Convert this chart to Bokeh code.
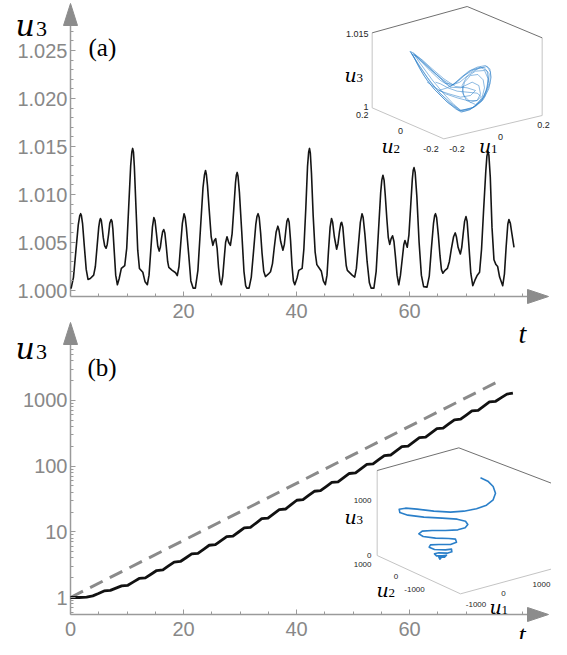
from bokeh.plotting import figure
from bokeh.models import (Range1d, LinearScale, LogScale, FixedTicker, NumeralTickFormatter, Label,
                          LinearAxis, LogAxis)
from bokeh.embed import file_html
from bokeh.resources import INLINE

# ---------------- data ----------------
# panel (a): u3(t), chaotic regime, pairs (t, u3)
a_samples = [
    (0.1, 1.0002), (0.525, 1.00137), (0.95, 1.0041), (1.375, 1.00683), (1.63, 1.00777), (1.8, 1.0080),
    (1.93, 1.0078), (2.13, 1.0070), (2.45, 1.0046), (2.78, 1.0022), (3.1, 1.00115), (3.5, 1.00125),
    (4.1, 1.0016), (4.4, 1.0025), (4.7, 1.00455), (5.0, 1.0066), (5.18, 1.0073), (5.3, 1.0075),
    (5.45, 1.0073), (5.6, 1.0066), (5.8, 1.0055), (6.05, 1.00465), (6.3, 1.0044), (6.5, 1.0048),
    (6.75, 1.0059), (6.95, 1.0070), (7.2, 1.0074), (7.35, 1.0072), (7.5, 1.0064), (7.75, 1.0040),
    (8.0, 1.0016), (8.3, 1.0006), (8.6, 1.0012), (9.0, 1.0023), (9.6, 1.0026), (9.95, 1.0044),
    (10.3, 1.0087), (10.65, 1.0130), (10.85, 1.0144), (11.0, 1.0148), (11.15, 1.0144), (11.3, 1.0129),
    (11.6, 1.0085), (11.9, 1.0042), (12.2, 1.0023), (12.8, 1.0019), (13.2, 1.0009), (13.6, 1.0006),
    (13.9, 1.0016), (14.2, 1.0041), (14.5, 1.0066), (14.75, 1.0076), (14.95, 1.0073), (15.2, 1.0060),
    (15.45, 1.0046), (15.7, 1.0041), (15.9, 1.0045), (16.1, 1.0054), (16.3, 1.0061), (16.5, 1.00635),
    (16.7, 1.0060), (16.95, 1.0046), (17.2, 1.0030), (17.4, 1.0024), (18.0, 1.0021), (18.6, 1.00185),
    (18.9, 1.00155), (19.2, 1.0025), (19.5, 1.0048), (19.8, 1.0070), (20.1, 1.0080), (20.3, 1.0076),
    (20.5, 1.0066), (20.9, 1.0039), (21.3, 1.0010), (21.7, 1.00025), (22.1, 1.00025), (22.55, 1.0021),
    (23.0, 1.0064), (23.45, 1.0107), (23.7, 1.0120), (23.9, 1.0125), (24.05, 1.0121), (24.25, 1.0109),
    (24.55, 1.0084), (24.9, 1.0056), (25.2, 1.0047), (25.45, 1.0052), (25.7, 1.0054), (25.95, 1.0044),
    (26.2, 1.0024), (26.45, 1.0010), (26.7, 1.0006), (26.95, 1.0015), (27.2, 1.0033), (27.45, 1.0050),
    (27.7, 1.0056), (28.0, 1.0050), (28.3, 1.0047), (28.6, 1.0059), (28.9, 1.0085), (29.2, 1.0112),
    (29.35, 1.0120), (29.5, 1.0123), (29.65, 1.0119), (29.9, 1.0102), (30.3, 1.0062), (30.7, 1.0020),
    (31.0, 1.0005), (31.2, 1.00025), (31.6, 1.00025), (32.0, 1.0014), (32.4, 1.0041), (32.8, 1.0069),
    (33.0, 1.0077), (33.2, 1.0080), (33.4, 1.0076), (33.65, 1.0060), (33.9, 1.0039), (34.2, 1.0020),
    (34.5, 1.00145), (35.0, 1.0017), (35.4, 1.00195), (35.75, 1.0028), (36.05, 1.0044), (36.4, 1.0061),
    (36.7, 1.0067), (36.9, 1.0063), (37.2, 1.0051), (37.6, 1.0042), (37.85, 1.0048), (38.1, 1.0062),
    (38.3, 1.0072), (38.5, 1.0075), (38.7, 1.0071), (38.95, 1.0052), (39.2, 1.0026), (39.45, 1.0010),
    (39.7, 1.0006), (40.1, 1.0013), (40.4, 1.0021), (41.0, 1.0023), (41.3, 1.0043), (41.65, 1.0086),
    (41.95, 1.0129), (42.15, 1.0144), (42.3, 1.0148), (42.45, 1.0143), (42.65, 1.0122), (42.95, 1.0078),
    (43.3, 1.0040), (43.6, 1.0027), (43.95, 1.0024), (44.4, 1.0020), (44.75, 1.0010), (45.1, 1.0006),
    (45.4, 1.0016), (45.65, 1.0040), (45.95, 1.0066), (46.2, 1.0075), (46.4, 1.0071), (46.7, 1.0056),
    (47.1, 1.0043), (47.35, 1.0049), (47.6, 1.0061), (47.85, 1.0070), (48.0, 1.0071), (48.2, 1.0066),
    (48.5, 1.0045), (48.8, 1.0026), (49.0, 1.0021), (49.85, 1.0016), (50.3, 1.0014), (50.6, 1.0023),
    (50.95, 1.0047), (51.3, 1.0071), (51.6, 1.0080), (51.8, 1.0076), (52.1, 1.0059), (52.5, 1.0030),
    (52.9, 1.0008), (53.2, 1.00025), (53.7, 1.00025), (54.1, 1.0020), (54.5, 1.0061), (54.9, 1.0102),
    (55.1, 1.0115), (55.3, 1.0120), (55.5, 1.0115), (55.7, 1.0100), (56.0, 1.0074), (56.25, 1.0055),
    (56.5, 1.0048), (56.75, 1.0054), (57.0, 1.0057), (57.25, 1.0051), (57.5, 1.0036), (57.8, 1.0016),
    (58.1, 1.0006), (58.4, 1.0016), (58.7, 1.0032), (59.0, 1.0048), (59.2, 1.0052), (59.6, 1.0045),
    (59.9, 1.0058), (60.2, 1.0087), (60.5, 1.0116), (60.65, 1.0125), (60.8, 1.0128), (61.0, 1.0123),
    (61.3, 1.0098), (61.7, 1.0050), (62.1, 1.0016), (62.5, 1.0004), (63.1, 1.00035), (63.5, 1.0015),
    (63.85, 1.0042), (64.25, 1.0070), (64.45, 1.0078), (64.6, 1.0080), (64.8, 1.0076), (65.1, 1.0058),
    (65.4, 1.0036), (65.65, 1.0022), (65.9, 1.0018), (66.3, 1.0021), (66.7, 1.0023), (67.05, 1.0030),
    (67.4, 1.0043), (67.8, 1.0056), (68.1, 1.0060), (68.3, 1.0056), (68.6, 1.0045), (69.0, 1.0038),
    (69.25, 1.0045), (69.5, 1.0059), (69.75, 1.0072), (70.0, 1.0077), (70.2, 1.0072), (70.5, 1.0048),
    (70.85, 1.0018), (71.2, 1.0005), (71.6, 1.0011), (72.0, 1.0016), (72.4, 1.0019), (72.75, 1.0043),
    (73.1, 1.0082), (73.5, 1.0124), (73.7, 1.0140), (73.9, 1.0145), (74.05, 1.0141), (74.3, 1.0118),
    (74.6, 1.0066), (74.95, 1.0032), (75.3, 1.0027), (75.6, 1.0025), (75.95, 1.0014), (76.5, 1.0005),
    (76.8, 1.0017), (77.1, 1.0045), (77.4, 1.0069), (77.6, 1.0074), (77.85, 1.0070), (78.1, 1.0060),
    (78.5, 1.0045),
]
t_a = [p[0] for p in a_samples]
u3_a = [p[1] for p in a_samples]

# panel (b): growing u3(t) (log axis) and the dashed reference line
t_b = [0, 1.5, 2.85, 3.95, 4.95, 5.95, 7.05, 8.05, 9.05, 10.15, 11.15, 12.15, 13.25, 14.25, 15.25,
       16.35, 17.35, 18.35, 19.45, 20.45, 21.45, 22.55, 23.55, 24.55, 25.65, 26.65, 27.65, 28.75,
       29.75, 30.75, 31.85, 32.85, 33.85, 34.95, 35.95, 36.95, 38.05, 39.05, 40.05, 41.15, 42.15,
       43.15, 44.25, 45.25, 46.25, 47.35, 48.35, 49.35, 50.45, 51.45, 52.45, 53.55, 54.55, 55.55,
       56.65, 57.65, 58.65, 59.75, 60.75, 61.75, 62.85, 63.85, 64.85, 65.95, 66.95, 67.95, 69.05,
       70.05, 71.05, 72.15, 73.15, 74.15, 75.25, 76.25, 77.25, 78.3]
u3_b = [1.0, 1.0, 1.01, 1.06, 1.15, 1.257, 1.283, 1.39, 1.505, 1.535, 1.73, 1.95, 1.99, 2.26, 2.574,
        2.626, 3.02, 3.465, 3.535, 4.03, 4.60, 4.70, 5.41, 6.24, 6.36, 7.32, 8.42, 8.59, 9.93, 11.48,
        11.72, 13.6, 15.84, 16.16, 18.8, 21.78, 22.22, 25.9, 30.2, 30.8, 35.7, 41.4, 42.2, 48.8, 56.4,
        57.6, 66.7, 77.2, 78.8, 91.4, 105.9, 108.1, 125, 144.5, 147.5, 171, 198, 202, 234, 271, 277,
        321, 371, 379, 438, 507, 517, 599, 693, 707, 820, 950, 970, 1100, 1247, 1290]
t_dash = [0, 75.5]
u3_dash = [1.0, 1900]

# tick values / labels
t_ticks_a = [20, 40, 60]
t_ticks_b = [0, 20, 40, 60]
t_minor = [5, 10, 15, 25, 30, 35, 45, 50, 55, 65, 70, 75, 80]
u3_ticks_a = [1.000, 1.005, 1.010, 1.015, 1.020, 1.025]
u3_minor_a = [1.001, 1.002, 1.003, 1.004, 1.006, 1.007, 1.008, 1.009, 1.011, 1.012, 1.013, 1.014,
              1.016, 1.017, 1.018, 1.019, 1.021, 1.022, 1.023, 1.024, 1.026, 1.027]
u3_ticks_b = [1, 10, 100, 1000]
u3_minor_b = [0.6, 0.7, 0.8, 0.9, 2, 3, 4, 5, 6, 7, 8, 9, 20, 30, 40, 50, 60, 70, 80, 90,
              200, 300, 400, 500, 600, 700, 800, 900, 2000, 3000, 4000, 5000, 6000]

# inset (a): projected 3-D attractor (projected units of the inset box)
box_a_top_x = [35, 320, 545]
box_a_top_y = [97, 18, 112]
box_a_rest_x = [545, 545, 250, 35, 35]
box_a_rest_y = [112, 345, 415, 322, 97]
attr_xs = [
    [150, 160, 178, 200, 225, 255, 285, 302, 320, 345, 368, 385, 392, 388, 375, 350, 325, 300, 278, 255, 230, 205, 180, 160, 150],
    [152, 165, 190, 220, 260, 295, 330, 360, 378, 383, 372, 345, 318, 305, 310, 330, 350, 360, 355, 335, 300, 268, 240, 210, 180, 158],
    [155, 175, 210, 240, 270, 300, 335, 365, 380, 386, 370, 340, 310, 290, 260, 235, 265, 300, 330, 345, 320, 285, 250, 215, 185, 163],
    [148, 170, 200, 235, 268, 300, 340, 372, 388, 390, 380, 355, 330, 298, 272, 248, 215, 185, 160],
    [158, 180, 215, 250, 280, 305, 328, 350, 365, 372, 368, 352, 330, 312, 305, 318, 345, 370, 385, 380, 360, 330, 300, 270, 240, 210, 182, 162],
    [200, 225, 255, 290, 320, 350, 362, 350, 320, 290, 262, 240, 225],
]
attr_ys = [
    [153, 170, 205, 240, 270, 300, 325, 335, 330, 318, 298, 265, 230, 205, 195, 200, 212, 232, 252, 248, 225, 200, 175, 158, 153],
    [156, 180, 225, 265, 305, 330, 325, 305, 270, 235, 210, 212, 230, 255, 285, 305, 300, 280, 255, 245, 262, 260, 232, 205, 178, 160],
    [160, 195, 245, 280, 310, 332, 322, 300, 260, 220, 200, 208, 225, 245, 262, 270, 280, 290, 285, 270, 262, 258, 235, 205, 178, 163],
    [152, 185, 230, 275, 305, 330, 320, 290, 250, 215, 198, 203, 218, 245, 255, 238, 212, 185, 162],
    [158, 190, 238, 280, 312, 333, 328, 312, 290, 262, 238, 222, 225, 245, 275, 300, 312, 290, 250, 212, 200, 210, 235, 258, 240, 212, 183, 162],
    [245, 262, 280, 292, 300, 300, 288, 278, 275, 272, 262, 250, 245],
]

# inset (b): projected growing spiral
box_b_top_x = [20, 265, 545]
box_b_top_y = [90, 22, 129]
box_b_rest_x = [545, 545, 270, 20, 20]
box_b_rest_y = [129, 385, 460, 345, 90]
spiral_x = [330, 352, 368, 375, 368, 348, 318, 280, 240, 190, 140, 105, 86, 88, 112, 160, 215, 260, 285,
            292, 284, 262, 225, 185, 155, 145, 158, 195, 235, 255, 258, 240, 205, 180, 176, 192, 225,
            243, 244, 230, 205, 192, 198, 215, 228, 222, 205, 208, 212]
spiral_y = [112, 122, 138, 158, 178, 194, 205, 212, 215, 212, 206, 203, 206, 216, 224, 230, 233, 236, 242,
            252, 262, 268, 270, 270, 272, 280, 288, 293, 294, 296, 305, 312, 312, 313, 320, 327, 328,
            326, 334, 338, 337, 340, 346, 346, 344, 350, 350, 356, 352]

# ---------------- geometry / styles ----------------
PXT = 5.65          # px per unit of t
PXU = 9600.0        # px per unit of u3 (panel a)
PXD = 65.7          # px per decade (panel b)
AX = "#8c8c8c"
AXL = "#9a9a9a"
LBL = "#888888"
INK = "#262626"

# frame = whole figure (picture coordinates)
F = dict(L=0, R=551, T=0, B=639)


def tx(rx):
    return (rx - 70) / PXT


def ua(ry):
    return 1 + (290 - ry) / PXU


def ub(ry):
    return 10 ** ((597 - ry) / PXD)


p = figure(width=F["R"] - F["L"], height=F["B"] - F["T"],
           x_range=Range1d(tx(F["L"]), tx(F["R"])), y_range=Range1d(ua(F["B"]), ua(F["T"])),
           x_axis_location=None, y_axis_location=None,
           output_backend="svg", toolbar_location=None,
           min_border_left=0, min_border_right=0, min_border_top=0, min_border_bottom=0)
p.outline_line_color = None
p.background_fill_color = "white"
p.border_fill_color = "white"
for g in p.grid:
    g.visible = False

OXA, OYA = 360, 0      # inset (a) origin, projected units = 1/3 px
OXB, OYB = 370, 440    # inset (b) origin
p.extra_y_ranges = {
    "b": Range1d(ub(F["B"]), ub(F["T"])),
    "ia": Range1d((F["B"] - OYA) * 3, (F["T"] - OYA) * 3),
    "ib": Range1d((F["B"] - OYB) * 3, (F["T"] - OYB) * 3),
}
p.extra_y_scales = {"b": LogScale(), "ia": LinearScale(), "ib": LinearScale()}
p.extra_x_ranges = {
    "ia": Range1d((F["L"] - OXA) * 3, (F["R"] - OXA) * 3),
    "ib": Range1d((F["L"] - OXB) * 3, (F["R"] - OXB) * 3),
}
p.extra_x_scales = {"ia": LinearScale(), "ib": LinearScale()}

ya0 = ua(296)   # panel (a) t-axis level
yb0 = ub(614)   # panel (b) t-axis level


def style_axis(ax, standoff):
    ax.axis_line_color = None
    ax.major_tick_line_color = AXL
    ax.minor_tick_line_color = AXL
    ax.major_tick_in = 5
    ax.major_tick_out = 0
    ax.minor_tick_in = 3
    ax.minor_tick_out = 0
    ax.major_label_standoff = standoff
    ax.major_label_text_font = "Liberation Sans"
    ax.major_label_text_font_size = "20px"
    ax.major_label_text_color = LBL


ay_a = LinearAxis(fixed_location=0, ticker=FixedTicker(ticks=u3_ticks_a, minor_ticks=u3_minor_a),
                  formatter=NumeralTickFormatter(format="0.000"))
style_axis(ay_a, 3)
p.add_layout(ay_a, "left")
ay_b = LogAxis(y_range_name="b", fixed_location=0,
               ticker=FixedTicker(ticks=u3_ticks_b, minor_ticks=u3_minor_b),
               formatter=NumeralTickFormatter(format="0"))
style_axis(ay_b, 3)
p.add_layout(ay_b, "left")
ax_a = LinearAxis(fixed_location=ya0, ticker=FixedTicker(ticks=t_ticks_a, minor_ticks=t_minor),
                  formatter=NumeralTickFormatter(format="0"))
style_axis(ax_a, 7)
p.add_layout(ax_a, "below")
ax_b = LinearAxis(y_range_name="b", fixed_location=yb0,
                  ticker=FixedTicker(ticks=t_ticks_b, minor_ticks=t_minor),
                  formatter=NumeralTickFormatter(format="0"))
style_axis(ax_b, 7)
p.add_layout(ax_b, "below")

# ---- panel (a) axis lines with arrow heads ----
p.line([0, 0], [ya0, ua(25)], line_color=AXL, line_width=1.5)
p.line([0, tx(527)], [ya0, ya0], line_color=AXL, line_width=1.5)
p.patch([tx(63), tx(77), tx(70)], [ua(25), ua(25), ua(3)], fill_color=AX, line_color=AX)
p.patch([tx(527), tx(527), tx(548)], [ua(289), ua(303), ua(296)], fill_color=AX, line_color=AX)

p.line(t_a, u3_a, line_color="#151515", line_width=1.6, line_join="round")

# ---- panel (b) axis lines with arrow heads ----
p.line([0, 0], [yb0, ub(344)], y_range_name="b", line_color=AXL, line_width=1.5)
p.line([0, tx(527)], [yb0, yb0], y_range_name="b", line_color=AXL, line_width=1.5)
p.patch([tx(63), tx(77), tx(70)], [ub(344), ub(344), ub(322)], y_range_name="b", fill_color=AX, line_color=AX)
p.patch([tx(527), tx(527), tx(548)], [ub(607), ub(621), ub(614)], y_range_name="b", fill_color=AX, line_color=AX)

p.line(t_dash, u3_dash, y_range_name="b", line_color="#8a8a8a", line_width=3, line_dash="14 8")
p.line(t_b, u3_b, y_range_name="b", line_color="#111111", line_width=2.8, line_join="round")

# ---- inset (a) ----
p.line(box_a_rest_x, box_a_rest_y, x_range_name="ia", y_range_name="ia", line_color="#c4c4c4", line_width=1)
p.line(box_a_top_x, box_a_top_y, x_range_name="ia", y_range_name="ia", line_color="#707070", line_width=1)
p.multi_line(attr_xs, attr_ys, x_range_name="ia", y_range_name="ia", line_color="#2a7fc9",
             line_alpha=0.6, line_width=0.9)

# ---- inset (b) ----
p.line(box_b_rest_x, box_b_rest_y, x_range_name="ib", y_range_name="ib", line_color="#c4c4c4", line_width=1)
p.line(box_b_top_x, box_b_top_y, x_range_name="ib", y_range_name="ib", line_color="#707070", line_width=1)
p.line(spiral_x, spiral_y, x_range_name="ib", y_range_name="ib", line_color="#2a7fc9", line_width=1.6,
       line_join="round")


def put(text, rx, ry, size, font="Liberation Serif", style="normal", color="black",
        align="left", baseline="alphabetic"):
    p.add_layout(Label(x=rx - F["L"], y=F["B"] - ry, x_units="screen", y_units="screen", text=text,
                       text_font=font, text_font_size=f"{size}px", text_font_style=style,
                       text_color=color, text_align=align, text_baseline=baseline))


MATH = "DejaVu Serif"

# inset (a) texts
for txt, rx, ry, al in [("1.015", 368, 33.3, "right"), ("1", 368, 106, "right"), ("0.2", 368, 114.5, "right"),
                        ("0", 400, 130, "center"), ("-0.2", 430.5, 148, "center"), ("-0.2", 456.5, 148, "center"),
                        ("0", 500, 136.5, "center"), ("0.2", 543, 124, "center")]:
    put(txt, rx, ry, 9, font="Liberation Sans", color=INK, align=al, baseline="middle")
put("u", 344, 74, 19, font=MATH, style="italic")
put("3", 356, 77, 13)
put("u", 381, 145.5, 19, font=MATH, style="italic")
put("2", 393, 148.5, 13)
put("u", 478.5, 145.5, 19, font=MATH, style="italic")
put("1", 490.5, 148.5, 13)

# inset (b) texts
for txt, rx, ry, al in [("1000", 371, 500, "right"), ("0", 371, 555, "right"), ("1000", 371, 563.5, "right"),
                        ("0", 395.5, 576, "center"), ("-1000", 414, 588.5, "center"),
                        ("-1000", 475.5, 603.5, "center"), ("0", 503, 592.5, "center"),
                        ("1000", 541, 583.5, "center")]:
    put(txt, rx, ry, 8, font="Liberation Sans", color=INK, align=al, baseline="middle")
put("u", 344, 516, 19, font=MATH, style="italic")
put("3", 356, 519, 13)
put("u", 376, 589.5, 19, font=MATH, style="italic")
put("2", 388, 592.5, 13)
put("u", 489, 606, 19, font=MATH, style="italic")
put("1", 501, 609, 13)

# axis titles / panel tags
put("u", 15, 25, 30, font=MATH, style="italic")
put("3", 35.5, 28.5, 22)
put("(a)", 88, 47, 25)
put("t", 518, 333, 28, style="italic")

put("u", 15, 348, 30, font=MATH, style="italic")
put("3", 35.5, 351.5, 22)
put("(b)", 87, 367, 25)
put("t", 518, 634, 26, style="italic")

open("out.html", "w").write(file_html(p, INLINE))
